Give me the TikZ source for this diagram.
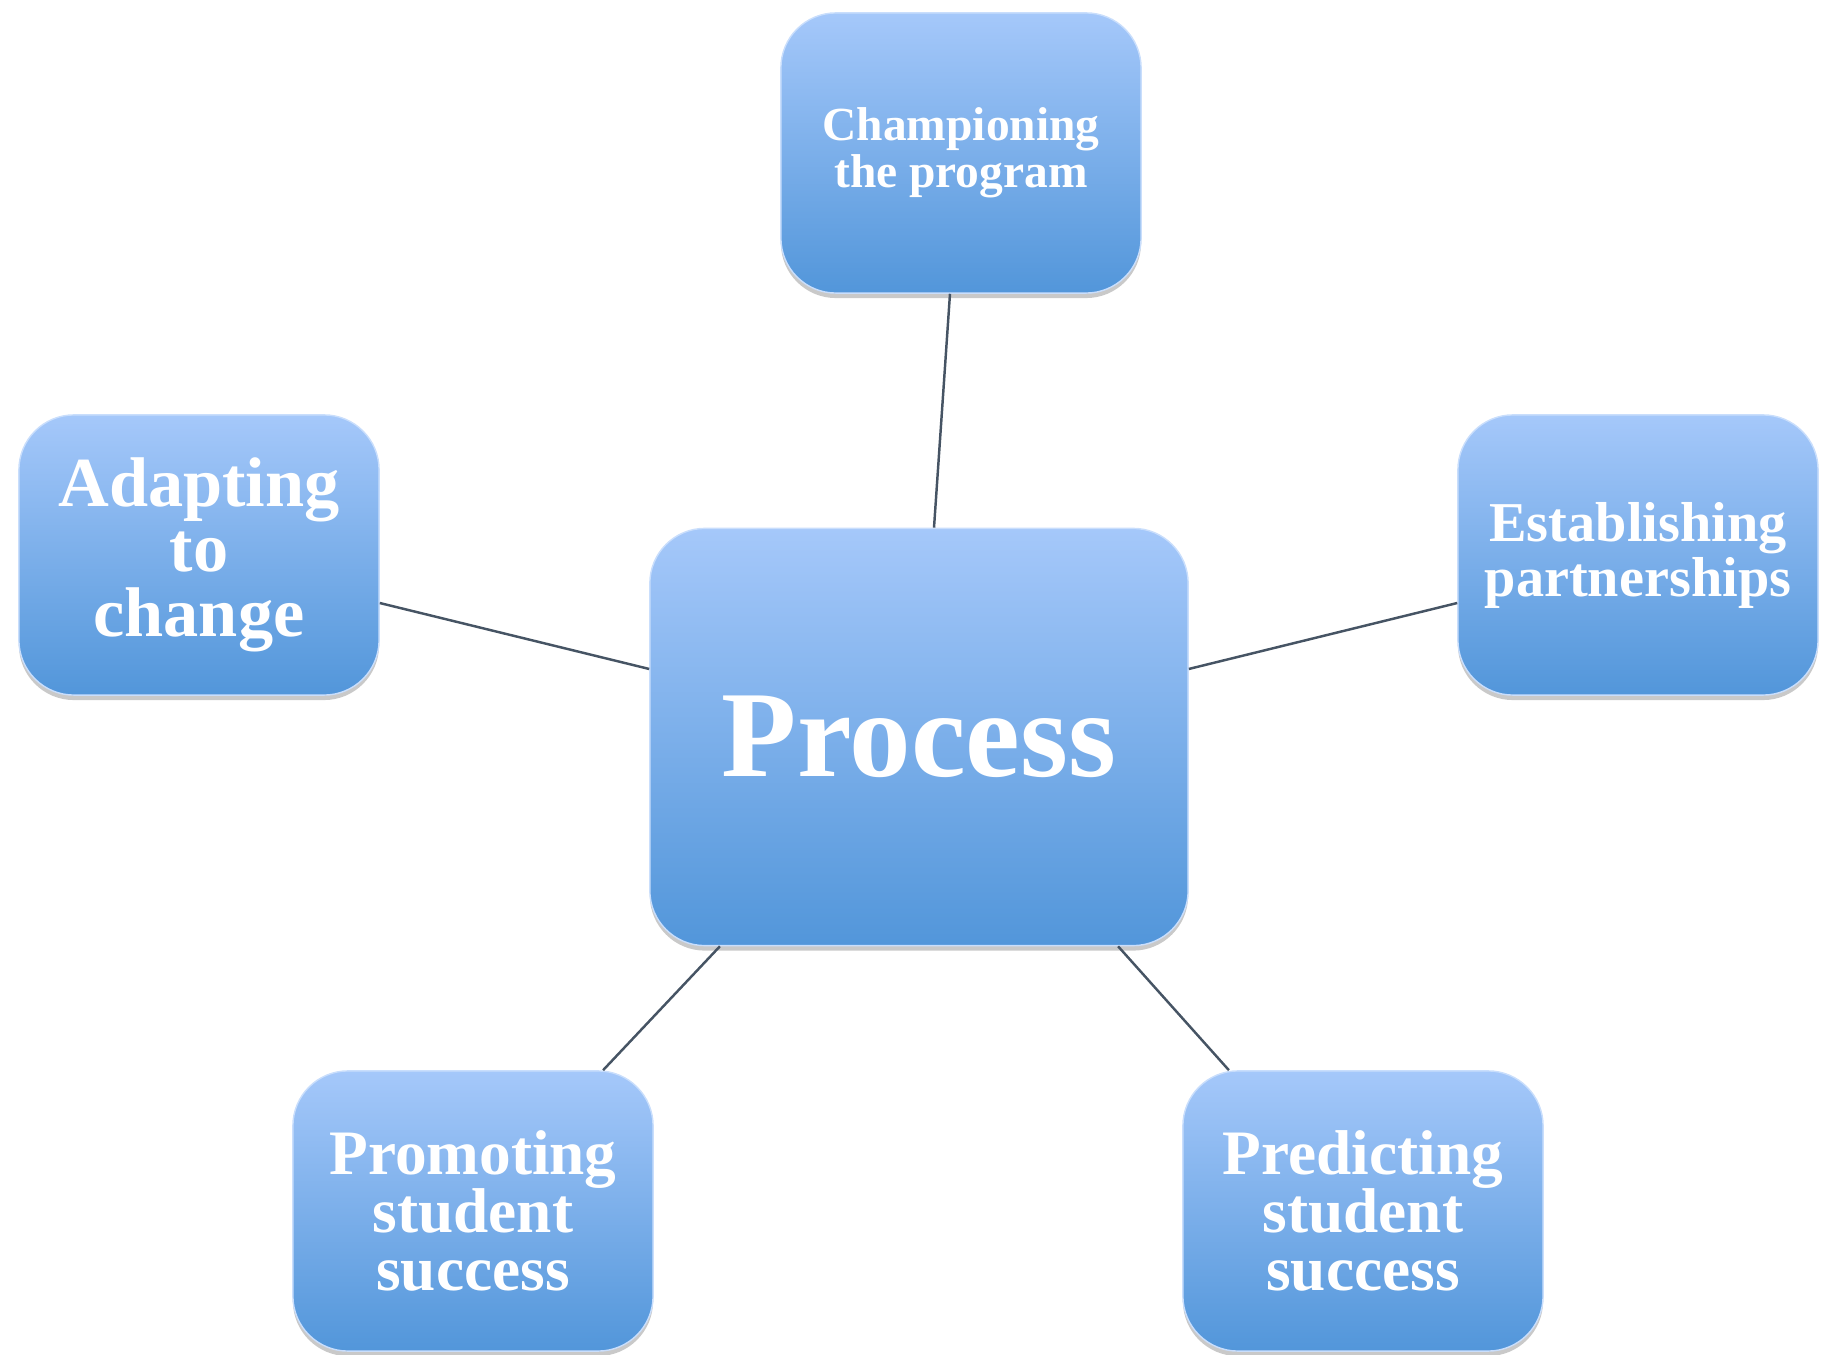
\documentclass[tikz,border=0pt]{standalone}
\usepackage{fontspec}
\setmainfont{Liberation Serif}
\usetikzlibrary{shadows}

\definecolor{boxtop}{RGB}{165,200,250}
\definecolor{boxbot}{RGB}{82,150,218}
\definecolor{linegray}{RGB}{70,84,100}

\begin{document}
\begin{tikzpicture}[x=0.01cm, y=-0.01cm,
    box/.style={rectangle, rounded corners=0.55cm, inner sep=0pt,
        minimum width=3.6cm, minimum height=2.8cm,
        draw=boxtop!60!white, line width=0.4pt,
        top color=boxtop, bottom color=boxbot, text=white, align=center,
        drop shadow={shadow xshift=0pt, shadow yshift=-0.05cm, opacity=0.3, fill=black!70}},
    link/.style={line width=0.7pt, draw=linegray}]
    \useasboundingbox (0,0) rectangle (1835,1355);

    % centre
    \node[box, minimum width=5.38cm, minimum height=4.17cm,
        font=\fontsize{35}{35}\selectfont\bfseries] (proc) at (919,737) {Process};

    % outer boxes
    \node[box, font=\fontsize{13.5}{11}\selectfont\bfseries] (champ) at (961,153)
        {Championing\\the program};
    \node[box, font=\fontsize{20}{18.5}\selectfont\bfseries] (adapt) at (199,555)
        {Adapting\\to\\change};
    \node[box, font=\fontsize{16}{14}\selectfont\bfseries] (estab) at (1638,555)
        {Establishing\\partnerships};
    \node[box, font=\fontsize{18}{16.5}\selectfont\bfseries] (promo) at (473,1211)
        {Promoting\\student\\success};
    \node[box, font=\fontsize{18}{16.5}\selectfont\bfseries] (predict) at (1363,1211)
        {Predicting\\student\\success};

    % links
    \draw[link] ([xshift=-0.11cm]champ.south) -- ([xshift=0.15cm]proc.north);
    \draw[link] ([yshift=-0.48cm]adapt.east) -- ([yshift=0.68cm]proc.west);
    \draw[link] ([yshift=-0.48cm]estab.west) -- ([yshift=0.68cm]proc.east);
    \draw[link] ([xshift=-1.99cm]proc.south) -- ([xshift=1.30cm]promo.north);
    \draw[link] ([xshift=1.99cm]proc.south) -- ([xshift=-1.34cm]predict.north);
\end{tikzpicture}
\end{document}
